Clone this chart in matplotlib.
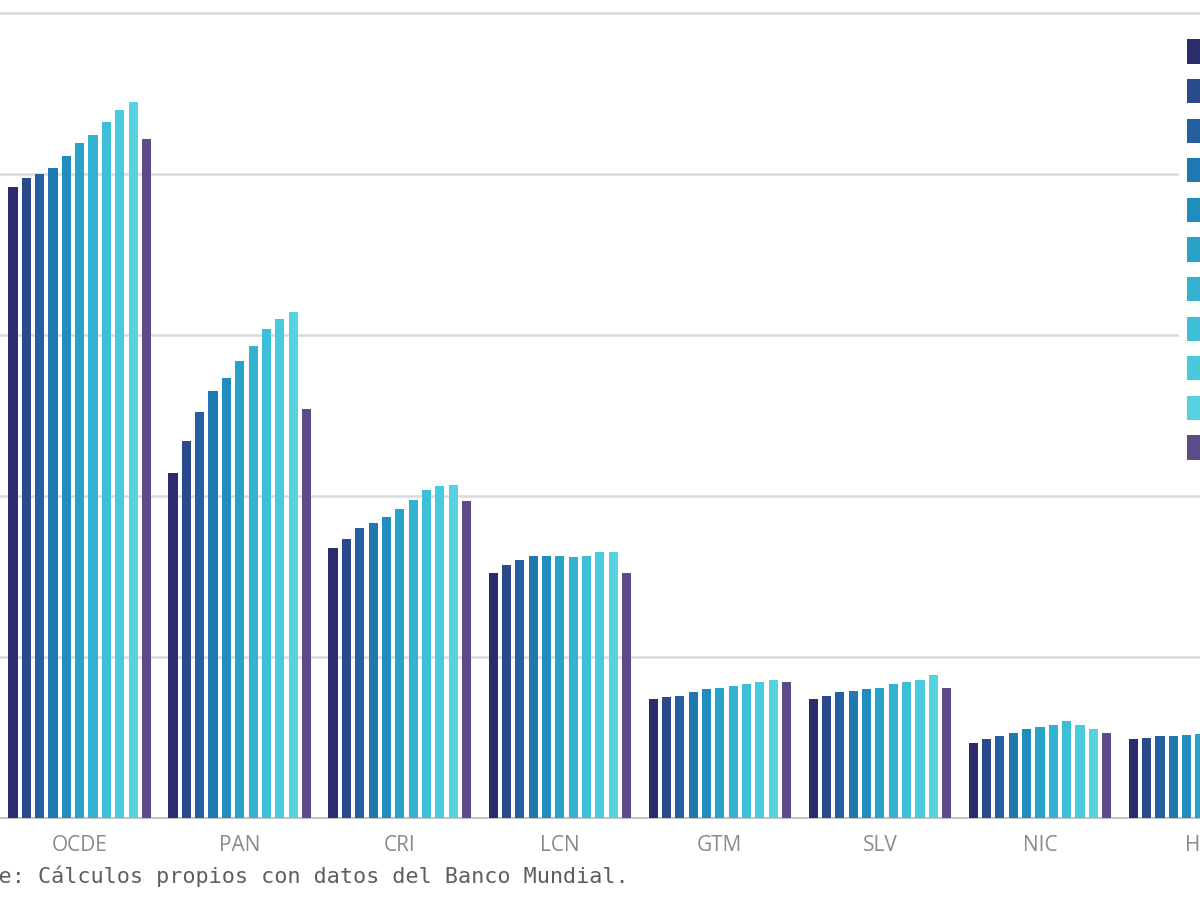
import matplotlib
matplotlib.use('Agg')
import matplotlib.pyplot as plt
import numpy as np

categories = ['OCDE', 'PAN', 'CRI', 'LCN', 'GTM', 'SLV', 'NIC', 'HN']
series_labels = ['2008', '2009', '2010', '2011', '2012', '2013', '2014',
                 '2015', '2016', '2017', 'Promedio']

# values per category, 10 yearly bars + purple bar
ocde = [39.2, 39.75, 40.0, 40.4, 41.1, 41.9, 42.4, 43.2, 44.0, 44.5, 42.2]
pan = [21.4, 23.4, 25.2, 26.5, 27.3, 28.4, 29.3, 30.4, 31.0, 31.4, 25.4]
cri = [16.8, 17.3, 18.0, 18.3, 18.7, 19.2, 19.75, 20.4, 20.6, 20.7, 19.7]
lcn = [15.2, 15.7, 16.0, 16.3, 16.3, 16.3, 16.2, 16.3, 16.5, 16.5, 15.2]
gtm = [7.4, 7.5, 7.6, 7.8, 8.0, 8.1, 8.2, 8.3, 8.45, 8.6, 8.45]
slv = [7.4, 7.6, 7.8, 7.9, 8.0, 8.1, 8.3, 8.45, 8.6, 8.9, 8.1]
nic = [4.66, 4.9, 5.1, 5.3, 5.5, 5.65, 5.8, 6.0, 5.8, 5.5, 5.3]
hn = [4.9, 4.95, 5.1, 5.1, 5.15, 5.2, 5.2, 5.15, 5.1, 5.0, 5.0]

colors = ['#2c2c6c', '#2a4a8c', '#24609f', '#1f78b0', '#1f8ebd', '#29a2c8',
          '#33b2d2', '#3ebfd8', '#48c9dc', '#56d3e1', '#5e4a86']

data = np.array([ocde, pan, cri, lcn, gtm, slv, nic, hn])

fig = plt.figure(figsize=(12, 9), dpi=100)
px_per_unit = 16.1
ymax = 51.5
ax = fig.add_axes([0, 82 / 900, 1, ymax * px_per_unit / 900])

x = np.arange(len(categories))
step = 0.0834
width = 0.057
for j in range(len(series_labels)):
    ax.bar(x + (j - 5) * step, data[:, j], width, color=colors[j],
           label=series_labels[j], zorder=3)

ax.set_xlim(-0.498, 6.97)
ax.set_ylim(0, ymax)
ax.set_yticks([10, 20, 30, 40, 50])
ax.yaxis.grid(True, color='#dadada', lw=1.8)
ax.set_axisbelow(True)
ax.tick_params(axis='y', left=False, labelleft=False)
for s in ['top', 'right', 'left']:
    ax.spines[s].set_visible(False)
ax.spines['bottom'].set_color('#c4c4c4')
ax.spines['bottom'].set_linewidth(1.5)
ax.set_xticks(x)
ax.set_xticklabels(categories, fontsize=15, color='#8a8a8a', family='Open Sans')
ax.tick_params(axis='x', bottom=False, pad=8.5)

leg = ax.legend(loc='upper left', bbox_to_anchor=(1179 / 1200, 1 - 31.7 / 900),
                bbox_transform=fig.transFigure, frameon=True, facecolor='white',
                edgecolor='none', framealpha=1, fontsize=14, handleheight=1.54,
                handlelength=1.2, labelspacing=0.79, borderaxespad=0,
                borderpad=0.4, fancybox=False)
leg.set_zorder(10)

fig.text(-0.056, 1 - 876 / 900, 'Fuente: Cálculos propios con datos del Banco Mundial.',
         va='center', ha='left', family='DejaVu Sans Mono', fontsize=15.7,
         color='#5e5e5e')

fig.savefig('out.png', dpi=100)
